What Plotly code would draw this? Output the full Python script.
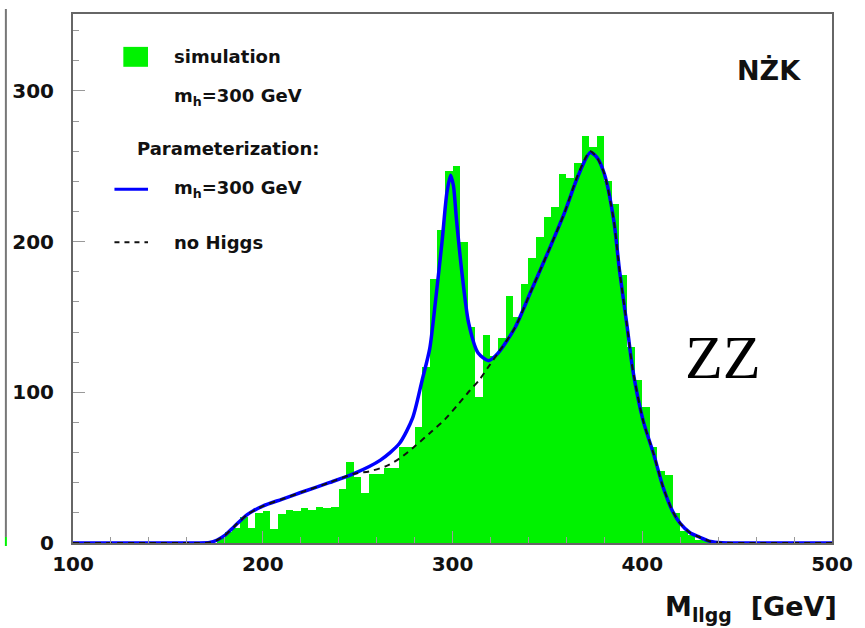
import plotly.graph_objects as go

# ---------------------------------------------------------------------------
# Data
# ---------------------------------------------------------------------------
# Simulated M_llgg spectrum, 4 GeV bins from 100 to 500 GeV (left edges)
bin_width = 4
bin_left_edges = list(range(100, 500, bin_width))
sim_counts = [
    # 100 .. 168
    0, 0, 0, 0, 0, 0, 0, 0, 0, 0, 0, 0, 0, 0, 0, 0, 0, 0,
    # 172 .. 236
    0, 3, 7, 10, 17, 10, 20, 21, 9, 19, 22, 21, 23, 22, 24, 23, 24,
    # 240 .. 300
    36, 54, 44, 33, 46, 46, 50, 50, 64, 64, 77, 117, 175, 208, 247, 250,
    # 304 .. 364
    200, 143, 97, 138, 124, 136, 164, 150, 172, 189, 203, 216, 223, 245, 242, 252,
    # 368 .. 432
    270, 263, 270, 240, 225, 178, 130, 108, 90, 64, 48, 45, 20, 8, 5, 2, 1,
    # 436 .. 496
    0, 0, 0, 0, 0, 0, 0, 0, 0, 0, 0, 0, 0, 0, 0, 0,
]
bin_centers = [e + bin_width / 2 for e in bin_left_edges]

# Parameterization with m_h = 300 GeV
param_mass = [100, 140, 165, 172, 176, 180, 185, 192, 200, 210, 220, 235, 248,
              262, 272, 279, 284, 288, 291, 294.5, 297, 299, 300.5, 302, 305,
              308.5, 313.5, 319, 324, 333, 341, 350, 359, 366, 372.5, 376, 380,
              385, 388, 392, 395, 400.5, 406, 411, 416, 420, 425, 430, 436, 442,
              460, 500]
param_events = [0, 0, 0, 0.3, 2, 5, 11, 19, 24.5, 29, 33.5, 40, 46,
                55, 66, 83, 108, 129, 160, 200, 232, 244, 237, 216, 179,
                146, 126, 121, 126, 143, 166, 192, 219, 243, 259, 256, 245,
                214, 181, 144, 115, 81, 59, 37, 21, 13, 7, 4, 1, 0.2,
                0, 0]

# Parameterization without Higgs
nohiggs_mass = [100, 140, 165, 172, 176, 180, 185, 192, 200, 210, 220, 235, 248,
                256, 265, 272, 280, 289, 296, 303, 309, 314, 319, 324, 333, 341,
                350, 359, 366, 372.5, 376, 380, 385, 388, 392, 395, 400.5, 406,
                411, 416, 420, 425, 430, 436, 442, 460, 500]
nohiggs_events = [0, 0, 0, 0.3, 2, 5, 11, 19, 24.5, 29, 33.5, 40, 46,
                  47.5, 51, 56, 64, 74, 82, 92, 101, 108, 117, 126, 143, 166,
                  192, 219, 244, 260, 256, 245, 214, 181, 144, 115, 81, 59,
                  37, 21, 13, 7, 4, 1, 0.2, 0, 0]

x_ticks = [100, 200, 300, 400, 500]
y_ticks = [0, 100, 200, 300]

# ---------------------------------------------------------------------------
# Layout helpers (pixel positions of the frame)
# ---------------------------------------------------------------------------
W, H = 865, 628
PL, PR, PT, PB = 69, 838, 12, 543


def fx(p):
    return (p - PL) / (PR - PL)


def fy(p):
    return (PB - p) / (PB - PT)


GREEN = "#00f200"
BLUE = "#0000ff"
BOLD = dict(family="DejaVu Sans", weight=700, color="#111111")

fig = go.Figure()

fig.add_trace(go.Bar(
    x=bin_centers, y=sim_counts, width=bin_width,
    marker=dict(color=GREEN, line=dict(width=0)),
    showlegend=False, hoverinfo="skip",
))
fig.add_trace(go.Scatter(
    x=param_mass, y=param_events, mode="lines",
    line=dict(color=BLUE, width=3.5, shape="spline", smoothing=0.7),
    showlegend=False, hoverinfo="skip",
))
fig.add_trace(go.Scatter(
    x=nohiggs_mass, y=nohiggs_events, mode="lines",
    line=dict(color="#111111", width=2, dash="6px,5px", shape="spline",
              smoothing=0.7),
    showlegend=False, hoverinfo="skip",
))

shapes = []
annotations = []

# Legend box contents
shapes.append(dict(type="rect", xref="paper", yref="paper",
                   x0=fx(120), x1=fx(145), y0=fy(65), y1=fy(45),
                   fillcolor=GREEN, line=dict(width=0)))
shapes.append(dict(type="line", xref="paper", yref="paper",
                   x0=fx(111), x1=fx(145), y0=fy(188), y1=fy(188),
                   line=dict(color=BLUE, width=3)))
shapes.append(dict(type="line", xref="paper", yref="paper",
                   x0=fx(111), x1=fx(145), y0=fy(241), y1=fy(241),
                   line=dict(color="#111111", width=2, dash="5px,5px")))

legend_texts = [
    ("simulation", 169, 55),
    ("m<sub>h</sub>=300 GeV", 169, 95),
    ("Parameterization:", 132, 147),
    ("m<sub>h</sub>=300 GeV", 169, 188),
    ("no Higgs", 169, 241),
]
for txt, x, y in legend_texts:
    annotations.append(dict(text=txt, xref="paper", yref="paper",
                            x=fx(x), y=fy(y), xanchor="left", yanchor="middle",
                            showarrow=False, font=dict(size=18, **BOLD)))

annotations.append(dict(text="NŻK", xref="paper", yref="paper",
                        x=fx(774), y=fy(69), xanchor="center", yanchor="middle",
                        showarrow=False, font=dict(size=27, **BOLD)))
annotations.append(dict(text="ZZ", xref="paper", yref="paper",
                        x=fx(728), y=fy(356), xanchor="center", yanchor="middle",
                        showarrow=False,
                        font=dict(family="Liberation Serif", size=62,
                                  color="#000000")))
annotations.append(dict(text="M<sub>llgg</sub>  [GeV]", xref="paper",
                        yref="paper", x=fx(845), y=fy(609), xanchor="right",
                        yanchor="middle", showarrow=False,
                        font=dict(size=27, **BOLD)))

# Edge of the neighbouring panel
shapes.append(dict(type="line", xref="paper", yref="paper",
                   x0=fx(1), x1=fx(1), y0=fy(7), y1=fy(537),
                   line=dict(color="#777777", width=2)))
shapes.append(dict(type="line", xref="paper", yref="paper",
                   x0=fx(1), x1=fx(1), y0=fy(537), y1=fy(546),
                   line=dict(color=GREEN, width=2)))

axis_common = dict(
    showgrid=False, zeroline=False,
    showline=True, linecolor="#666666", linewidth=2, mirror=True,
    ticks="inside", ticklen=12, tickwidth=1, tickcolor="#999999",
    tickfont=dict(size=20, **BOLD),
)

fig.update_layout(
    width=W, height=H, autosize=False,
    margin=dict(l=PL, r=W - PR, t=PT, b=H - PB),
    paper_bgcolor="white", plot_bgcolor="white",
    bargap=0,
    xaxis=dict(range=[100, 500], tickvals=x_ticks, ticklabelstandoff=2,
               minor=dict(ticks="inside", ticklen=6, dtick=20,
                          tickcolor="#999999"),
               **axis_common),
    yaxis=dict(range=[0, 351], tickvals=y_ticks, ticklabelstandoff=13,
               minor=dict(ticks="inside", ticklen=6, dtick=20,
                          tickcolor="#999999"),
               **axis_common),
    shapes=shapes,
    annotations=annotations,
)

fig.write_html("out.html")
